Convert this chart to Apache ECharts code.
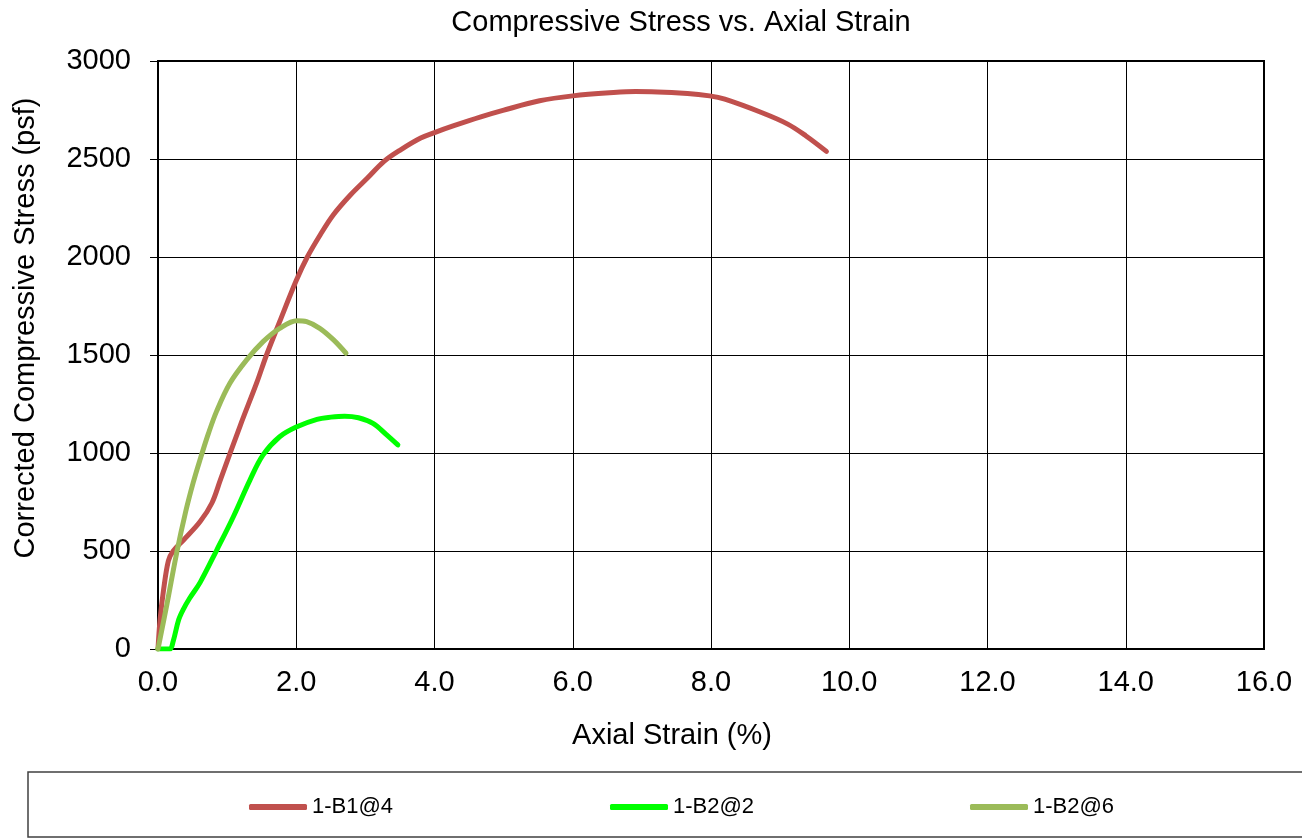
<!DOCTYPE html>
<html>
<head>
<meta charset="utf-8">
<title>Compressive Stress vs. Axial Strain</title>
<script src="https://cdn.jsdelivr.net/npm/echarts@6/dist/echarts.min.js"></script>
<style>
  html, body { margin: 0; padding: 0; background: #fff; }
  #chart { width: 1302px; height: 838px; }
</style>
</head>
<body>
<div id="chart"></div>
<script>
// Axial strain (%) / corrected compressive stress (psf) pairs for each specimen
const seriesNames = ['1-B1@4', '1-B2@2', '1-B2@6'];

const strainB1at4 = [0, 0.03, 0.08, 0.15, 0.22, 0.37, 0.61, 0.78, 0.9, 1.19, 1.43, 1.57, 1.76, 2.0, 2.16, 2.35, 2.54, 2.79, 3.03, 3.27, 3.51, 3.8, 4.0, 4.28, 4.67, 4.99, 5.52, 6.0, 6.59, 6.91, 7.66, 7.98, 8.2, 8.73, 9.11, 9.37, 9.67];
const stressB1at4 = [0, 150, 300, 450, 500, 556, 650, 745, 860, 1140, 1360, 1500, 1670, 1880, 2000, 2115, 2217, 2319, 2403, 2488, 2547, 2607, 2635, 2670, 2715, 2748, 2797, 2822, 2839, 2844, 2834, 2822, 2805, 2737, 2678, 2619, 2539];

const strainB2at2 = [0, 0.17, 0.22, 0.3, 0.37, 0.46, 0.61, 0.85, 1.09, 1.33, 1.52, 1.76, 2.01, 2.3, 2.5, 2.7, 2.9, 3.11, 3.3, 3.47];
const stressB2at2 = [0, 0, 40, 150, 205, 260, 340, 505, 675, 862, 990, 1083, 1134, 1172, 1183, 1188, 1180, 1151, 1095, 1041];

const strainB2at6 = [0, 0.13, 0.27, 0.4, 0.51, 0.61, 0.73, 0.85, 1.04, 1.28, 1.52, 1.76, 2.01, 2.15, 2.34, 2.54, 2.72];
const stressB2at6 = [0, 230, 490, 700, 850, 968, 1100, 1215, 1356, 1474, 1568, 1636, 1675, 1670, 1636, 1577, 1509];

const xTickLabels = ['0.0', '2.0', '4.0', '6.0', '8.0', '10.0', '12.0', '14.0', '16.0'];
const yTickLabels = ['0', '500', '1000', '1500', '2000', '2500', '3000'];

const colors = ['#C0504D', '#00FF00', '#9BBB59'];
const FONT = '"Liberation Sans", Arial, sans-serif';

function pairs(xs, ys) {
  return xs.map((x, i) => [x, ys[i]]);
}

const curves = [
  pairs(strainB1at4, stressB1at4),
  pairs(strainB2at2, stressB2at2),
  pairs(strainB2at6, stressB2at6)
];

const legendLefts = [249, 610, 970];

const chart = echarts.init(document.getElementById('chart'));

chart.setOption({
  animation: false,
  backgroundColor: '#ffffff',
  title: {
    text: 'Compressive Stress vs. Axial Strain',
    left: 681,
    top: 8,
    padding: 0,
    textAlign: 'center',
    textStyle: { fontFamily: FONT, fontSize: 29, fontWeight: 'normal', color: '#000' }
  },
  grid: {
    left: 158, right: 38, top: 61, bottom: 189,
    show: true, borderColor: '#000', borderWidth: 2, backgroundColor: 'transparent'
  },
  legend: seriesNames.map((name, i) => ({
    data: [name],
    left: legendLefts[i],
    top: 796,
    padding: 0,
    icon: 'roundRect',
    itemWidth: 58,
    itemHeight: 6,
    itemGap: 0,
    textStyle: { fontFamily: FONT, fontSize: 22, color: '#000' }
  })),
  xAxis: {
    type: 'value',
    min: 0, max: 16, interval: 2,
    axisLine: { show: true, lineStyle: { color: '#000', width: 2 } },
    axisTick: { show: false },
    splitLine: { show: true, lineStyle: { color: '#000', width: 1 } },
    axisLabel: {
      margin: 19,
      fontFamily: FONT, fontSize: 29, color: '#000',
      formatter: (v) => xTickLabels[Math.round(v / 2)]
    }
  },
  yAxis: {
    type: 'value',
    min: 0, max: 3000, interval: 500,
    axisLine: { show: true, lineStyle: { color: '#000', width: 2 } },
    axisTick: { show: true, inside: false, length: 8, lineStyle: { color: '#000', width: 1 } },
    splitLine: { show: true, lineStyle: { color: '#000', width: 1 } },
    axisLabel: {
      margin: 27,
      fontFamily: FONT, fontSize: 29, color: '#000',
      formatter: (v) => yTickLabels[Math.round(v / 500)]
    }
  },
  graphic: [
    {
      type: 'text',
      x: 672, y: 736,
      style: {
        text: 'Axial Strain (%)', font: '29px ' + FONT, fill: '#000',
        align: 'center', verticalAlign: 'middle'
      }
    },
    {
      type: 'text',
      x: 26, y: 328,
      rotation: Math.PI / 2,
      style: {
        text: 'Corrected Compressive Stress (psf)',
        font: '29px ' + FONT, fill: '#000',
        align: 'center', verticalAlign: 'middle'
      }
    },
    {
      type: 'rect',
      silent: true,
      z: -1,
      shape: { x: 28, y: 772, width: 1320, height: 65 },
      style: { fill: 'transparent', stroke: '#404040', lineWidth: 1.5 }
    }
  ],
  series: curves.map((data, i) => ({
    name: seriesNames[i],
    type: 'line',
    data: data,
    smooth: 0.35,
    showSymbol: false,
    symbol: 'none',
    color: colors[i],
    lineStyle: { color: colors[i], width: 5, cap: 'round', join: 'round' },
    z: 3 + (i === 2 ? 1 : 0)
  }))
});
</script>
</body>
</html>
